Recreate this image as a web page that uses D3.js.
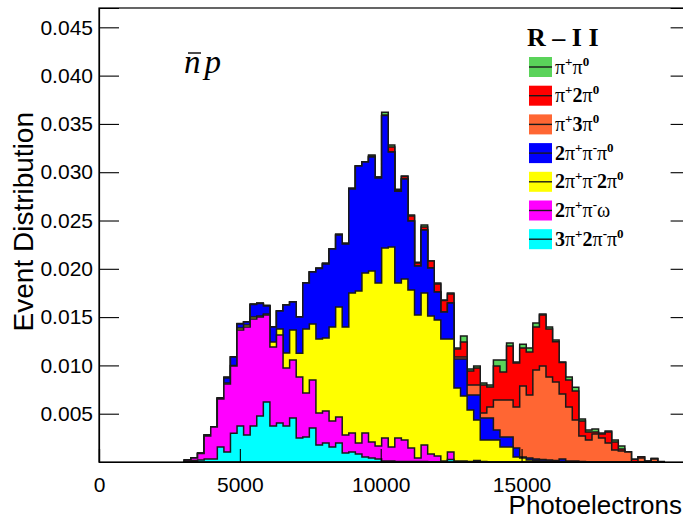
<!DOCTYPE html>
<html>
<head>
<meta charset="utf-8">
<script src="https://cdn.jsdelivr.net/npm/d3@7/dist/d3.min.js"></script>
<style>
  body { margin: 0; background: #fff; }
  svg text { font-family: "Liberation Sans", Arial, sans-serif; }
</style>
</head>
<body>
<div id="graph"></div>
<script>
// histogram: 90 bins over 0..21000 photoelectrons, arrays start at bin 13
const xMax = 21000;
const binWidth = xMax / 90;
const firstBin = 13;

// one value per bin (stack order bottom -> top)
const cyanVals = [ // 3pi+ 2pi- pi0
  0.00010, 0.00016, 0.00021, 0.00031, 0.00031, 0.00155, 0.00104, 0.00297, 0.00373, 0.00279,
  0.00373, 0.00476, 0.00621, 0.00373, 0.00404, 0.00373, 0.00455, 0.00248, 0.00259, 0.00352,
  0.00176, 0.00197, 0.00155, 0.00197, 0.00093, 0.00104, 0.00083, 0.00052, 0.00041, 0.00031,
  0.00010, 0.00010, 0.00005, 0.00005, 0.00005, 0.00005, 0.00005, 0.00003, 0.00003, 0.00003,
  0.00026, 0, 0, 0, 0, 0, 0, 0, 0, 0,
  0, 0, 0, 0, 0, 0, 0, 0, 0, 0,
  0, 0, 0, 0, 0, 0, 0, 0, 0, 0,
  0, 0, 0
];
const magentaVals = [ // 2pi+ pi- omega
  0.00010, 0.00026, 0.00067, 0.00238, 0.00331, 0.00497, 0.00704, 0.00697, 0.00994, 0.01118,
  0.01107, 0.01025, 0.00900, 0.00818, 0.00911, 0.00600, 0.00600, 0.00631, 0.00455, 0.00497,
  0.00331, 0.00331, 0.00269, 0.00269, 0.00186, 0.00197, 0.00114, 0.00248, 0.00166, 0.00135,
  0.00238, 0.00145, 0.00243, 0.00223, 0.00140, 0.00036, 0.00171, 0.00080, 0.00059, 0.00007,
  0.00078, 0.00010, 0.00010, 0.00005, 0.00016, 0.00005, 0, 0, 0, 0,
  0, 0, 0, 0, 0, 0, 0, 0, 0, 0,
  0, 0, 0, 0, 0, 0, 0, 0, 0, 0,
  0, 0, 0
];
const yellowVals = [ // 2pi+ pi- 2pi0
  0, 0, 0, 0, 0, 0.00005, 0.00010, 0.00005, 0.00021, 0.00021,
  0.00021, 0.00010, 0.00010, 0.00052, 0.00062, 0.00155, 0.00311, 0.00248, 0.00662, 0.00580,
  0.00766, 0.00756, 0.00973, 0.01139, 0.01118, 0.01449, 0.01573, 0.01656, 0.01770, 0.01687,
  0.01967, 0.02070, 0.01604, 0.01666, 0.01635, 0.01480, 0.01573, 0.01428, 0.01408, 0.01263,
  0.01170, 0.00756, 0.00673, 0.00533, 0.00419, 0.00223, 0.00228, 0.00228, 0.00155, 0.00155,
  0.00052, 0.00041, 0.00021, 0.00016, 0.00010, 0.00010, 0.00005, 0.00005, 0, 0,
  0, 0, 0, 0, 0, 0, 0, 0, 0, 0,
  0, 0, 0
];
const blueVals = [ // 2pi+ pi- pi0
  0, 0, 0.00002, 0.00010, 0.00003, 0.00005, 0.00052, 0.00088, 0.00041, 0.00031,
  0.00129, 0.00129, 0.00083, 0.00155, 0.00186, 0.00497, 0.00290, 0.00373, 0.00476, 0.00538,
  0.00730, 0.00766, 0.00807, 0.00745, 0.00859, 0.01076, 0.01294, 0.01149, 0.01180, 0.01087,
  0.01371, 0.00983, 0.00952, 0.01035, 0.00714, 0.00507, 0.00652, 0.00497, 0.00290, 0.00279,
  0.00373, 0.00300, 0.00383, 0.00155, 0.00259, 0.00228, 0.00228, 0.00104, 0.00104, 0.00104,
  0.00093, 0.00010, 0.00021, 0.00016, 0.00016, 0.00010, 0.00010, 0.00026, 0.00010, 0.00010,
  0.00005, 0, 0, 0, 0, 0, 0, 0, 0, 0,
  0, 0, 0
];
const orangeVals = [ // pi+ 3pi0
  0, 0, 0, 0, 0, 0, 0, 0, 0, 0,
  0, 0, 0, 0, 0, 0, 0, 0, 0, 0,
  0, 0, 0, 0, 0, 0, 0, 0, 0, 0,
  0, 0, 0, 0, 0, 0, 0, 0, 0, 0,
  0, 0.00021, 0.00021, 0.00104, 0.00104, 0.00052, 0.00114, 0.00311, 0.00383, 0.00383,
  0.00424, 0.00735, 0.00652, 0.00921, 0.00968, 0.00859, 0.00812, 0.00673, 0.00559, 0.00424,
  0.00264, 0.00228, 0.00290, 0.00248, 0.00197, 0.00124, 0.00114, 0.00104, 0, 0.00041,
  0, 0.00031, 0
];
const redVals = [ // pi+ 2pi0
  0, 0, 0, 0, 0, 0, 0.00005, 0, 0, 0,
  0, 0, 0, 0, 0, 0, 0, 0, 0, 0,
  0, 0, 0, 0, 0, 0, 0, 0, 0.00010, 0.00010,
  0.00005, 0.00052, 0.00010, 0.00026, 0.00052, 0.00031, 0.00031, 0.00072, 0.00083, 0.00119,
  0.00093, 0.00083, 0.00155, 0.00145, 0.00176, 0.00290, 0.00207, 0.00352, 0.00290, 0.00559,
  0.00455, 0.00393, 0.00445, 0.00445, 0.00528, 0.00497, 0.00419, 0.00326, 0.00279, 0.00300,
  0.00155, 0.00083, 0.00021, 0.00041, 0.00114, 0.00083, 0.00021, 0, 0.00028, 0.00013,
  0.00010, 0.00005, 0
];
const greenVals = [ // pi+ pi0
  0, 0, 0, 0, 0, 0, 0.00005, 0, 0.00005, 0,
  0.00005, 0.00005, 0.00010, 0, 0, 0, 0, 0, 0, 0,
  0.00005, 0.00010, 0, 0.00010, 0.00010, 0.00010, 0, 0, 0.00010, 0,
  0.00031, 0.00021, 0.00010, 0.00005, 0.00010, 0.00010, 0.00021, 0, 0.00010, 0.00005,
  0.00010, 0.00010, 0.00062, 0.00021, 0.00021, 0.00021, 0.00021, 0.00062, 0.00124, 0.00031,
  0.00010, 0.00041, 0.00041, 0.00041, 0.00010, 0.00021, 0.00016, 0.00005, 0.00031, 0.00041,
  0.00021, 0.00021, 0.00031, 0.00010, 0.00010, 0.00021, 0.00031, 0.00003, 0, 0,
  0, 0, 0.00005
];

// legend order (top -> bottom) is the reverse of the stack order
const stackKeys = ["cyan", "magenta", "yellow", "blue", "orange", "red", "green"];
const seriesColors = {
  green: "#5ad35a", red: "#ff0000", orange: "#ff6633", blue: "#0000ff",
  yellow: "#ffff00", magenta: "#ff00ff", cyan: "#00ffff"
};
const legendKeys = ["green", "red", "orange", "blue", "yellow", "magenta", "cyan"];
// [text, kind]  kind: n = normal, b = bold, s = superscript
const legendLabels = [
  [["π","n"],["+","s"],["π","n"],["0","s"]],
  [["π","n"],["+","s"],["2","b"],["π","n"],["0","s"]],
  [["π","n"],["+","s"],["3","b"],["π","n"],["0","s"]],
  [["2","b"],["π","n"],["+","s"],["π","n"],["-","s"],["π","n"],["0","s"]],
  [["2","b"],["π","n"],["+","s"],["π","n"],["-","s"],["2","b"],["π","n"],["0","s"]],
  [["2","b"],["π","n"],["+","s"],["π","n"],["-","s"],["ω","n"]],
  [["3","b"],["π","n"],["+","s"],["2","b"],["π","n"],["-","s"],["π","n"],["0","s"]]
];

const xMajorTicks = [0, 5000, 10000, 15000];
const xMinorTicks = d3.range(1000, 21000, 1000);
const yMajorTicks = [0.005, 0.010, 0.015, 0.020, 0.025, 0.030, 0.035, 0.040, 0.045];
const yMinorTicks = d3.range(1, 47).map(d => d / 1000);

const svgW = 683, svgH = 519;
const plotL = 99, plotR = 690.6, plotT = 8, plotB = 462;

const svg = d3.select("#graph").append("svg")
  .attr("width", svgW)
  .attr("height", svgH);

const xScale = d3.scaleLinear().domain([0, xMax]).range([plotL, plotR]);
const yScale = d3.scaleLinear().domain([0, 0.047]).range([plotB, plotT]);

const series = {
  cyan: cyanVals, magenta: magentaVals, yellow: yellowVals, blue: blueVals,
  orange: orangeVals, red: redVals, green: greenVals
};
const table = cyanVals.map((v, i) => {
  const row = { x: (firstBin + i) * binWidth };
  stackKeys.forEach(k => row[k] = series[k][i]);
  return row;
});
// closing point at the right edge of the last bin
const endRow = { x: (firstBin + cyanVals.length) * binWidth };
stackKeys.forEach(k => endRow[k] = 0);
table.push(endRow);

const stacked = d3.stack().keys(stackKeys)(table);

const area = d3.area()
  .curve(d3.curveStepAfter)
  .x(d => xScale(d.data.x))
  .y0(yScale(0))
  .y1(d => yScale(d[1]));

// like THStack: draw cumulative sums, the top one first
svg.append("g").selectAll("path")
  .data(stacked.slice().reverse())
  .enter()
  .append("path")
  .attr("d", d => area(d))
  .attr("fill", d => seriesColors[d.key])
  .attr("stroke", "#1a1a1a")
  .attr("stroke-width", 1.5)
  .attr("stroke-linejoin", "miter");

// frame
svg.append("rect")
  .attr("x", plotL).attr("y", plotT)
  .attr("width", plotR - plotL).attr("height", plotB - plotT)
  .attr("fill", "none").attr("stroke", "#000").attr("stroke-width", 1.2);

// axes, ticks pointing inside like ROOT
const yAxis = d3.axisLeft(yScale).tickValues(yMajorTicks).tickSize(-20).tickPadding(6)
  .tickFormat(d3.format(".3f"));
const yMinor = d3.axisLeft(yScale).tickValues(yMinorTicks).tickSize(-10).tickFormat("");
const yRight = d3.axisRight(yScale).tickValues(yMajorTicks).tickSize(-20).tickFormat("");
const yRightMinor = d3.axisRight(yScale).tickValues(yMinorTicks).tickSize(-10).tickFormat("");
const xAxis = d3.axisBottom(xScale).tickValues(xMajorTicks).tickSize(-13).tickPadding(15)
  .tickFormat(d3.format("d"));
const xMinor = d3.axisBottom(xScale).tickValues(xMinorTicks).tickSize(-6.5).tickFormat("");

const gy = svg.append("g").attr("transform", "translate(" + plotL + ",0)");
gy.call(yMinor);
gy.call(yAxis);
const gr = svg.append("g").attr("transform", "translate(" + plotR + ",0)");
gr.call(yRightMinor);
gr.call(yRight);
const gx = svg.append("g").attr("transform", "translate(0," + plotB + ")");
gx.call(xMinor);
gx.call(xAxis);

svg.selectAll(".domain").attr("stroke", "#000").attr("stroke-width", 1.2);
svg.selectAll(".tick line").attr("stroke", "#000").attr("stroke-width", 1.1);
gy.selectAll("text").attr("font-size", 21).attr("fill", "#000")
  .style("font-family", "'Liberation Sans', Arial, sans-serif");
gx.selectAll("text").attr("font-size", 21).attr("fill", "#000")
  .style("font-family", "'Liberation Sans', Arial, sans-serif");

// axis titles
svg.append("text")
  .attr("x", 682).attr("y", 514)
  .attr("text-anchor", "end")
  .attr("font-size", 26)
  .text("Photoelectrons");

svg.append("text")
  .attr("transform", "translate(33,112) rotate(-90)")
  .attr("text-anchor", "end")
  .attr("font-size", 28)
  .text("Event Distribution");

// n-bar p label
const np = svg.append("text")
  .attr("x", 184).attr("y", 73)
  .attr("font-size", 33)
  .attr("font-style", "italic")
  .attr("letter-spacing", 4)
  .style("font-family", "'Liberation Serif', 'Times New Roman', serif");
np.append("tspan").text("n");
np.append("tspan").text("p");
svg.append("line")
  .attr("x1", 188).attr("x2", 201)
  .attr("y1", 53).attr("y2", 53)
  .attr("stroke", "#000").attr("stroke-width", 1.4);

// legend
const legend = svg.append("g")
  .style("font-family", "'Liberation Serif', 'Times New Roman', serif");
legend.append("text")
  .attr("x", 527).attr("y", 46)
  .attr("font-size", 26)
  .attr("font-weight", "bold")
  .style("font-family", "'Liberation Serif', 'Times New Roman', serif")
  .text("R – I I");

legendKeys.forEach((k, i) => {
  const y0 = 57 + i * 28.7;
  legend.append("rect")
    .attr("x", 529).attr("y", y0)
    .attr("width", 23).attr("height", 20)
    .attr("fill", seriesColors[k]);
  legend.append("line")
    .attr("x1", 529).attr("x2", 552)
    .attr("y1", y0 + 10).attr("y2", y0 + 10)
    .attr("stroke", "#1a1a1a").attr("stroke-width", 1.4);
  const t = legend.append("text")
    .attr("x", 555).attr("y", y0 + 16.5)
    .attr("font-size", 20)
    .style("font-family", "'Liberation Serif', 'Times New Roman', serif");
  legendLabels[i].forEach(([txt, kind], j) => {
    const ts = t.append("tspan").text(txt);
    const prev = j > 0 ? legendLabels[i][j - 1][1] : null;
    if (kind === "b") ts.attr("font-weight", "bold");
    if (kind === "s") {
      ts.attr("font-size", 13).attr("font-weight", "bold");
      if (prev !== "s") ts.attr("dy", -8);
    } else if (prev === "s") {
      ts.attr("dy", 8);
    }
  });
});
</script>
</body>
</html>
